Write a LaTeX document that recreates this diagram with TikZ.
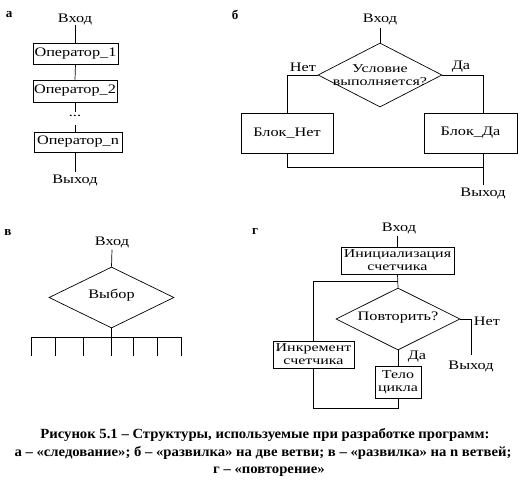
\documentclass[tikz,border=0pt]{standalone}
\usepackage{fontspec}
\setmainfont{Liberation Serif}
\newfontfamily\df[FakeStretch=1.25]{Liberation Serif}
\newfontfamily\dfw[FakeStretch=1.33]{Liberation Serif}
\newfontfamily\cf[FakeStretch=1.05]{Liberation Serif}
\usetikzlibrary{shapes.geometric,calc}
\tikzset{
  ln/.style={draw=black, line width=0.7pt},
  box/.style={draw=black, line width=0.7pt, inner sep=0pt, font=\df\fontsize{13}{13}\selectfont, align=center},
  twobox/.style={draw=black, line width=0.7pt, inner sep=0pt, font=\dfw\fontsize{12}{13}\selectfont, align=center},
  dia/.style={draw=black, line width=0.7pt, diamond, inner sep=0pt, aspect=2},
  txt/.style={inner sep=0pt, font=\df\fontsize{13}{13}\selectfont, align=center},
  twotxt/.style={inner sep=0pt, font=\dfw\fontsize{12}{13}\selectfont, align=center},
  plabel/.style={inner sep=0pt, font=\bfseries\fontsize{13}{13}\selectfont},
  captxt/.style={inner sep=0pt, font=\cf\bfseries\fontsize{14}{14}\selectfont, align=center}
}
\begin{document}
\begin{tikzpicture}[x=1pt,y=-1pt]
\useasboundingbox (0,0) rectangle (530,487);
% ---------- panel a ----------
\node[plabel] (la) at (9,15) {а};
\node[txt] (aIn) at (75,20) {Вход};
\node[box, minimum width=85pt, minimum height=21pt] (a1) at (75.5,53.5) {Оператор\_1};
\node[box, minimum width=84pt, minimum height=22pt] (a2) at (75,91) {Оператор\_2};
\node[txt] (adots) at (75,116) {...};
\node[box, minimum width=88pt, minimum height=20pt] (an) at (78,142) {Оператор\_n};
\node[txt] (aOut) at (75,180) {Выход};
\coordinate (ad1) at (75,112);
\coordinate (ad2) at (75,125);
\draw[ln] (aIn.south -| a1) ++(0,-1) -- (a1.north);
\draw[ln] (a1.south) -- (a2.north);
\draw[ln] (a2.south) -- (ad1);
\draw[ln] (ad2) -- (an.north -| ad2);
\draw[ln] (an.south -| ad2) -- ($(aOut.north -| ad2)+(0,-2)$);
% ---------- panel b ----------
\node[plabel] (lb) at (235,15) {б};
\node[txt] (bIn) at (380,20) {Вход};
\node[dia, minimum width=124pt, minimum height=64pt] (d1) at (380,75) {};
\node[twotxt] (d1t) at (380,75) {Условие\\выполняется?};
\node[txt] (bNoL) at (303,67) {Нет};
\node[txt] (bYesL) at (461,67) {Да};
\node[box, minimum width=92pt, minimum height=40pt] (bNo) at (287,133) {Блок\_Нет};
\node[box, minimum width=93pt, minimum height=40pt] (bYes) at (470.5,133) {Блок\_Да};
\node[txt] (bOut) at (483,193) {Выход};
\coordinate (bYx) at (483,113);
\coordinate (bJ) at (483,167);
\draw[ln] ($(bIn.south)+(0,2)$) -- (d1.north);
\draw[ln] (d1.west) -| (bNo.north);
\draw[ln] (d1.east) -| (bYx);
\draw[ln] (bNo.south) |- (bJ);
\draw[ln] (bYx |- bYes.south) -- ($(bOut.north -| bYx)+(0,-2)$);
% ---------- panel c ----------
\node[plabel] (lc) at (8,233) {в};
\node[txt] (cIn) at (112,242) {Вход};
\node[dia, minimum width=125pt, minimum height=61pt] (d2) at (111.5,297.5) {};
\node[txt] (d2t) at (111.5,295) {Выбор};
\coordinate (cJ) at (111.5,337);
\coordinate (cL) at (31,337);
\coordinate (cR) at (181,337);
\draw[ln] ($(cIn.south)+(0,2)$) -- (d2.north);
\draw[ln] (d2.south) -- (cJ);
\draw[ln] (cL) -- (cR);
\foreach \xx [count=\i] in {31,55,83,111.5,133,157,181}{
  \coordinate (ct\i) at (\xx,337);
  \coordinate (cb\i) at (\xx,356);
  \draw[ln] (ct\i) -- (cb\i);
}
% ---------- panel d ----------
\node[plabel] (ld) at (255,232) {г};
\node[txt] (dIn) at (399,228) {Вход};
\node[twobox, minimum width=113pt, minimum height=27pt] (init) at (397.5,260.5) {Инициализация\\счетчика};
\node[dia, minimum width=124pt, minimum height=62pt] (d3) at (398,319) {};
\node[txt] (d3t) at (398,318) {Повторить?};
\node[twobox, minimum width=46pt, minimum height=32pt] (body) at (398,382) {Тело\\цикла};
\node[twobox, minimum width=81pt, minimum height=27pt] (inc) at (313.5,354.5) {Инкремент\\счетчика};
\node[txt] (dNoL) at (487,321) {Нет};
\node[txt] (dYesL) at (417,357) {Да};
\node[txt] (dOut) at (471,366) {Выход};
\coordinate (dJ) at (398,281);
\coordinate (dBot) at (398,408);
\coordinate (dX) at (471,355);
\draw[ln] ($(dIn.south -| init)+(0,2)$) -- (init.north);
\draw[ln] (init.south) -- (d3.north);
\draw[ln] (d3.south) -- (body.north);
\draw[ln] (body.south) -- (dBot) -| (inc.south);
\draw[ln] (inc.north) |- (dJ);
\draw[ln] (d3.east) -| (dX);
% ---------- caption ----------
\node[captxt] (c1) at (265,435) {Рисунок 5.1 – Структуры, используемые при разработке программ:};
\node[captxt] (c2) at (263,453) {а – «следование»; б – «развилка» на две ветви; в – «развилка» на n ветвей;};
\node[captxt] (c3) at (269,472) {г – «повторение»};
\end{tikzpicture}
\end{document}
